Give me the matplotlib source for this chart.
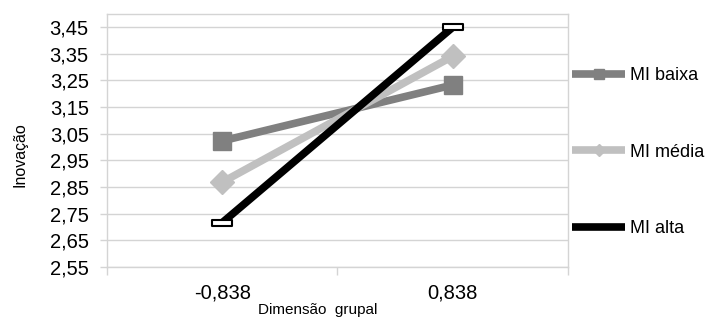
import numpy as np
import matplotlib
matplotlib.use('Agg')
import matplotlib.pyplot as plt
from matplotlib.path import Path

plt.rcParams['font.family'] = ['Liberation Sans', 'DejaVu Sans']

# data
categories = ["-0,838", "0,838"]
mi_baixa = [3.023, 3.233]
mi_media = [2.868, 3.341]
mi_alta = [2.716, 3.450]
y_ticks = [2.55, 2.65, 2.75, 2.85, 2.95, 3.05, 3.15, 3.25, 3.35, 3.45]

grid_col = '#D4D4D4'
# Excel-style flat rectangle marker for "MI alta"
flat_rect = Path([(-1, -0.28), (1, -0.28), (1, 0.28), (-1, 0.28), (-1, -0.28)],
                 [Path.MOVETO, Path.LINETO, Path.LINETO, Path.LINETO, Path.CLOSEPOLY])

fig = plt.figure(figsize=(7.12, 3.22), dpi=100)
ax = fig.add_axes([0.150, 0.171, 0.648, 0.786])

x = np.arange(len(categories)) + 0.5

ax.plot(x, mi_baixa, color='#808080', lw=5.5, marker='s', ms=13.5,
        label='MI baixa', solid_capstyle='butt')
ax.plot(x, mi_media, color='#C0C0C0', lw=5.5, marker='D', ms=12,
        label='MI média', solid_capstyle='butt')
ax.plot(x, mi_alta, color='black', lw=5.5, marker=flat_rect, ms=14,
        mfc='white', mec='black', mew=1.5, label='MI alta',
        solid_capstyle='butt')

ax.set_xlim(0, 2)
ax.set_ylim(2.55, 3.50)
ax.set_yticks(y_ticks)
ax.set_yticklabels([f"{v:.2f}".replace('.', ',') for v in y_ticks])
ax.yaxis.grid(True, color=grid_col, lw=1)
ax.set_axisbelow(True)

ax.set_xticks([0, 1, 2])
ax.set_xticklabels(['', '', ''])
ax.set_xticks(x, minor=True)
ax.set_xticklabels(categories, minor=True)
ax.tick_params(axis='x', which='major', length=6, color=grid_col, width=1)
ax.tick_params(axis='x', which='minor', length=0, pad=12, labelsize=14.5)
ax.tick_params(axis='y', length=5, color=grid_col, width=1, pad=8, labelsize=14.5)

for s in ax.spines.values():
    s.set_color(grid_col)
    s.set_linewidth(1)

ax.set_ylabel('Inovação', fontsize=11.5)
ax.yaxis.set_label_coords(-0.171, 0.443)
ax.set_xlabel('Dimensão  grupal', fontsize=11)
ax.xaxis.set_label_coords(0.458, -0.142)

handles, labels = ax.get_legend_handles_labels()
leg = ax.legend(handles, labels, loc='upper left', bbox_to_anchor=(1.009, 0.79),
                frameon=False, fontsize=13, labelspacing=3.3,
                handlelength=2.9, handletextpad=0.28, markerscale=0.5,
                borderaxespad=0, borderpad=0)

plt.savefig('out.png', dpi=100)
